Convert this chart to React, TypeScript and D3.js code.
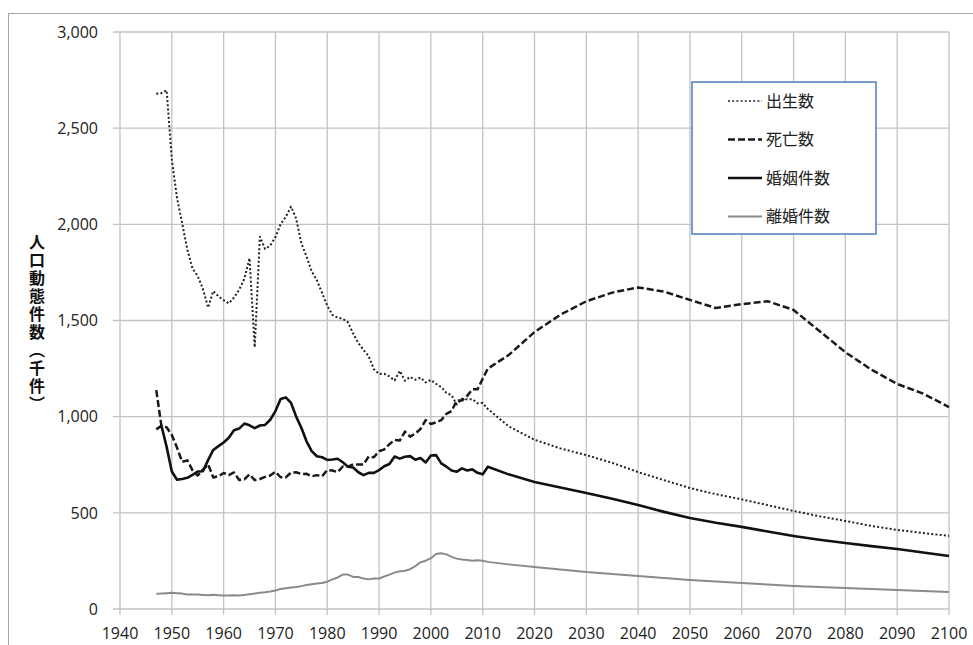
import * as d3 from "d3";
import React from "react";

// 実績 1947-2010（年次）+ 推計 2011-2100（5年刻み）
const yearsActual = d3.range(1947, 2011);
const yearsProj = [2011, 2015, 2020, 2025, 2030, 2035, 2040, 2045, 2050, 2055, 2060, 2065, 2070, 2075, 2080, 2085, 2090, 2095, 2100];

const birthsActual = [
  2679, 2682, 2697, 2338, 2138, 2005, 1868, 1770, 1731, 1665, 1567, 1653, 1626, 1606, 1589, 1619, 1660, 1717, 1824, 1361,
  1936, 1872, 1890, 1934, 2001, 2039, 2092, 2030, 1901, 1833, 1755, 1709, 1643, 1577, 1529, 1515, 1509, 1490, 1432, 1383,
  1347, 1314, 1247, 1222, 1223, 1209, 1188, 1238, 1187, 1207, 1192, 1203, 1178, 1191, 1171, 1154, 1124, 1111, 1063, 1093,
  1090, 1091, 1070, 1071,
];
const birthsProj = [1040, 950, 880, 835, 800, 760, 712, 670, 629, 597, 570, 540, 510, 482, 458, 432, 411, 395, 380];

const deathsActual = [
  1138, 951, 945, 905, 839, 765, 773, 721, 694, 725, 752, 684, 690, 707, 696, 710, 671, 674, 700, 670,
  676, 687, 694, 713, 685, 684, 709, 711, 702, 703, 690, 696, 690, 723, 720, 712, 741, 740, 752, 751,
  751, 793, 789, 820, 830, 857, 879, 876, 922, 896, 913, 936, 982, 962, 970, 982, 1015, 1029, 1084, 1084,
  1108, 1142, 1142, 1197,
];
const deathsProj = [1250, 1320, 1440, 1530, 1600, 1645, 1672, 1650, 1607, 1565, 1585, 1600, 1555, 1445, 1335, 1245, 1170, 1120, 1050];

const marriagesActual = [
  934, 953, 843, 715, 672, 676, 682, 697, 715, 716, 774, 827, 847, 866, 890, 929, 938, 964, 955, 940,
  954, 957, 984, 1029, 1092, 1100, 1072, 1000, 942, 872, 821, 794, 789, 775, 777, 781, 763, 740, 736, 711,
  696, 708, 708, 722, 742, 754, 793, 782, 792, 795, 776, 785, 762, 798, 800, 757, 740, 720, 714, 731,
  720, 726, 708, 700,
];
const marriagesProj = [740, 700, 660, 632, 603, 573, 541, 505, 473, 448, 427, 403, 380, 360, 343, 327, 312, 294, 276];

const divorcesActual = [
  79, 80, 82, 84, 82, 80, 75, 76, 75, 73, 71, 74, 72, 70, 70, 71, 70, 73, 77, 80,
  84, 87, 91, 96, 104, 108, 112, 114, 119, 125, 129, 132, 135, 142, 154, 164, 179, 179, 167, 166,
  158, 154, 158, 158, 169, 179, 189, 196, 199, 207, 223, 243, 251, 264, 286, 290, 284, 271, 262, 257,
  255, 251, 253, 251,
];
const divorcesProj = [245, 232, 218, 205, 192, 182, 172, 161, 151, 143, 135, 127, 120, 114, 109, 104, 99, 93, 88];

const seriesNames = ["出生数", "死亡数", "婚姻件数", "離婚件数"];
const xTicks = d3.range(1940, 2101, 10);
const yTicks = [0, 500, 1000, 1500, 2000, 2500, 3000];
const yTitle = "人口動態件数（千件）";

const styles = [
  { stroke: "#222", width: 2, dash: "2,2.2" },
  { stroke: "#1a1a1a", width: 2.5, dash: "7,3" },
  { stroke: "#111", width: 2.6, dash: null },
  { stroke: "#8a8a8a", width: 2, dash: null },
];

const years = [...yearsActual, ...yearsProj];
const allSeries = [
  [...birthsActual, ...birthsProj],
  [...deathsActual, ...deathsProj],
  [...marriagesActual, ...marriagesProj],
  [...divorcesActual, ...divorcesProj],
];

const W = 973;
const H = 645;
const margin = { left: 120, right: 24, top: 32, bottom: 36 };

export default function App() {
  const x = d3.scaleLinear().domain([1940, 2100]).range([margin.left, 949]);
  const y = d3.scaleLinear().domain([0, 3000]).range([609, margin.top]);

  const line = d3
    .line<[number, number]>()
    .x((d) => x(d[0]))
    .y((d) => y(d[1]));

  const font = "'Open Sans', 'DejaVu Sans', sans-serif";
  const cjk = "'Noto Sans CJK JP', sans-serif";
  const gridColor = "#c3c3c3";

  const lg = { x: 692, y: 82, w: 184, h: 152 };

  return (
    <svg width={W} height={H} style={{ position: "absolute", left: 0, top: 0, background: "#fff" }}>
      {/* 外枠 */}
      <rect x={8.5} y={13.5} width={1000} height={700} fill="none" stroke="#a6a6a6" />

      {/* グリッド */}
      {yTicks.map((t) => (
        <line key={"h" + t} x1={x(1940) - 7} x2={x(2100)} y1={y(t)} y2={y(t)} stroke={gridColor} strokeWidth={1.3} />
      ))}
      {xTicks.map((t) => (
        <line key={"v" + t} x1={x(t)} x2={x(t)} y1={y(3000)} y2={y(0) + 6} stroke={gridColor} strokeWidth={1.3} />
      ))}

      {/* 目盛ラベル */}
      {yTicks.map((t) => (
        <text key={"yl" + t} x={98} y={y(t)} dy="0.36em" textAnchor="end" fontFamily={font} fontSize={16} fill="#222">
          {d3.format(",")(t)}
        </text>
      ))}
      {xTicks.map((t) => (
        <text key={"xl" + t} x={x(t)} y={633} dy="0.36em" textAnchor="middle" fontFamily={font} fontSize={16} fill="#222">
          {t}
        </text>
      ))}

      {/* 縦軸タイトル（縦書き） */}
      <text
        x={37}
        y={234}
        writingMode="vertical-rl"
        style={{ textOrientation: "upright" } as React.CSSProperties}
        letterSpacing={2}
        fontFamily={cjk}
        fontWeight={700}
        fontSize={16}
        fill="#111"
      >
        {yTitle}
      </text>

      {/* 系列 */}
      {allSeries.map((vals, i) => (
        <path
          key={"s" + i}
          d={line(years.map((yr, j) => [yr, vals[j]]) as [number, number][]) || ""}
          fill="none"
          stroke={styles[i].stroke}
          strokeWidth={styles[i].width}
          strokeDasharray={styles[i].dash || undefined}
          strokeLinejoin="round"
        />
      ))}

      {/* 凡例 */}
      <rect x={lg.x} y={lg.y} width={lg.w} height={lg.h} fill="#fff" stroke="#4a7ebb" strokeWidth={1.5} />
      {seriesNames.map((name, i) => {
        const cy = 101 + i * 38.5;
        return (
          <g key={"lg" + i}>
            <line
              x1={728}
              x2={762}
              y1={cy}
              y2={cy}
              stroke={styles[i].stroke}
              strokeWidth={i === 0 ? 1.5 : styles[i].width}
              strokeDasharray={styles[i].dash || undefined}
            />
            <text x={766} y={cy} dy="0.36em" fontFamily={cjk} fontSize={16} fill="#222">
              {name}
            </text>
          </g>
        );
      })}
    </svg>
  );
}
